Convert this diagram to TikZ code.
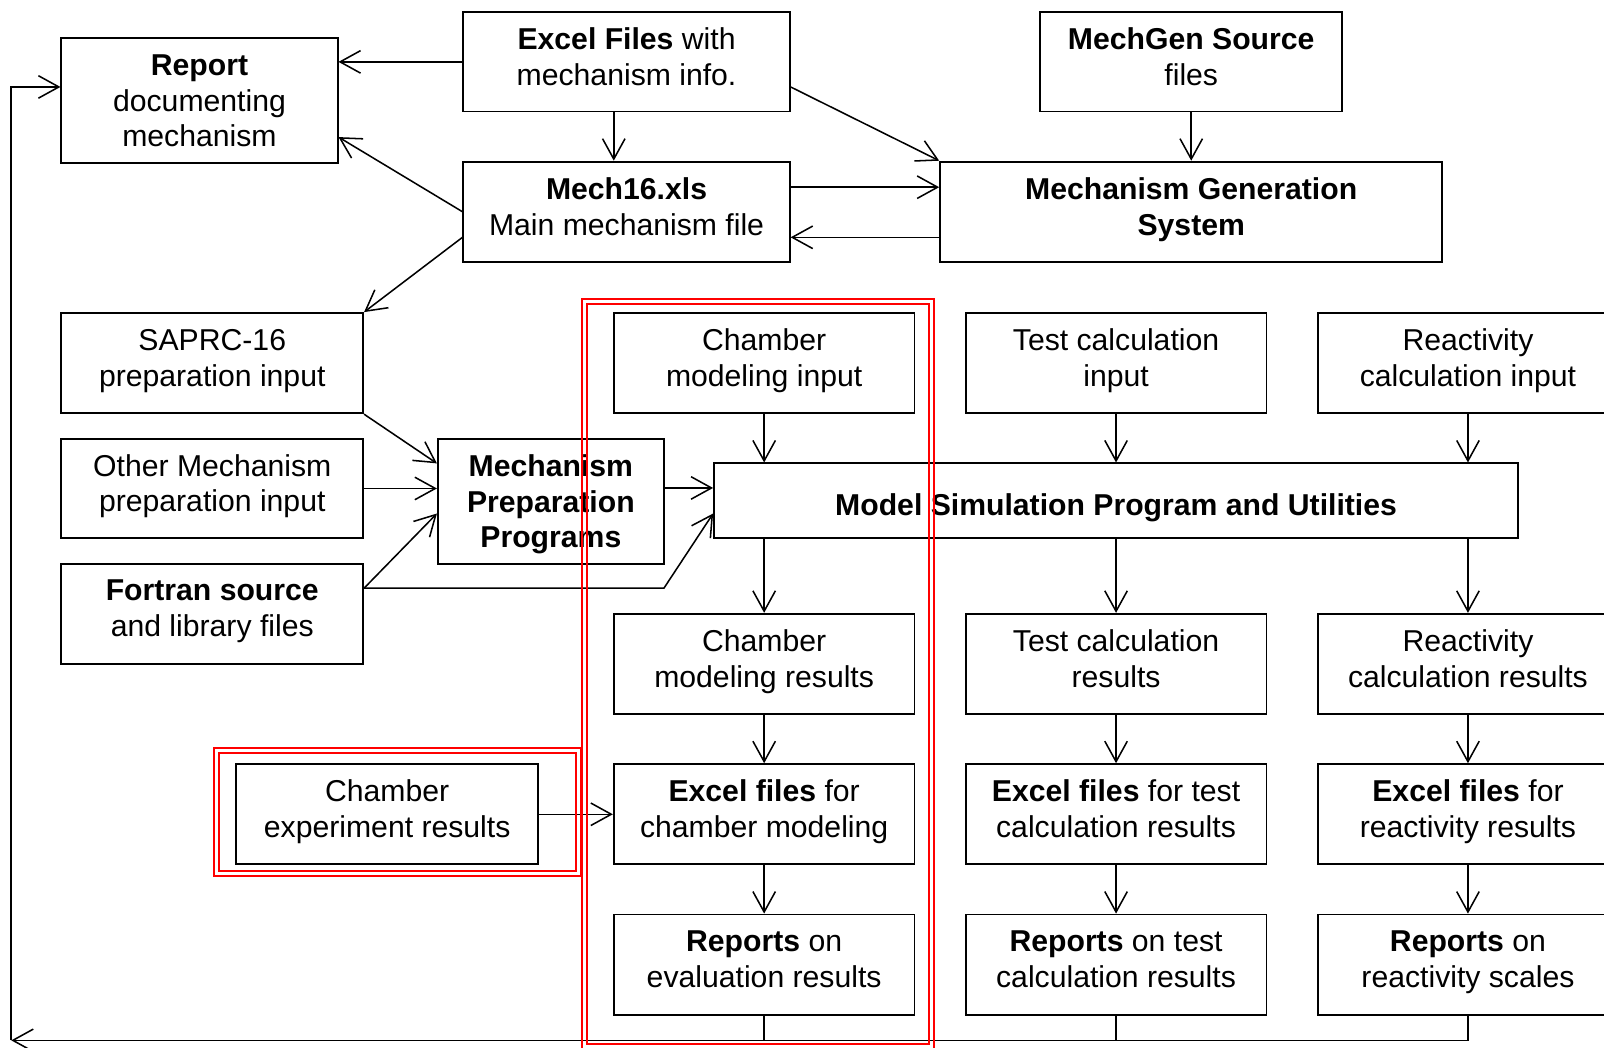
\documentclass[tikz,border=0pt]{standalone}
\usepackage{fontspec}
\setmainfont{Liberation Sans}
\usetikzlibrary{arrows.meta}
\begin{document}
\begin{tikzpicture}[x=1pt,y=-1pt,
  box/.style={draw, line width=1.8pt, align=center, inner sep=0pt,
    font=\fontsize{29.5}{35}\selectfont,
    execute at begin node=\strut, execute at end node=\strut},
  threeline/.style={text depth=0pt},
  arr/.style={line width=1.5pt, -{Straight Barb[length=20pt,width=22pt,line width=1.5pt]}},
  plain/.style={line width=1.5pt},
  redbox/.style={draw=red, line width=2pt}]
\useasboundingbox (0,0) rectangle (1568,1024);

% top area
\node[box, threeline, minimum width=270pt, minimum height=122pt] (report) at (195,98.5) {\textbf{Report}\\documenting\\mechanism};
\node[box, minimum width=319pt, minimum height=97pt] (excel) at (612.5,60.5) {\textbf{Excel Files} with\\mechanism info.};
\node[box, minimum width=295pt, minimum height=97pt] (mgsrc) at (1164.5,60.5) {\textbf{MechGen Source}\\files};
\node[box, minimum width=319pt, minimum height=98pt] (mech16) at (612.5,207) {\textbf{Mech16.xls}\\Main mechanism file};
\node[box, minimum width=491pt, minimum height=98pt] (mgs) at (1164.5,207) {\textbf{Mechanism Generation}\\\textbf{System}};

% left column
\node[box, minimum width=295pt, minimum height=98pt] (saprc) at (207.5,355) {SAPRC-16\\preparation input};
\node[box, minimum width=295pt, minimum height=97pt] (other) at (207.5,477.5) {Other Mechanism\\preparation input};
\node[box, minimum width=295pt, minimum height=98pt] (fortran) at (207.5,600) {\textbf{Fortran source}\\and library files};
\node[box, threeline, minimum width=221pt, minimum height=122pt] (mpp) at (538.5,490) {\textbf{Mechanism}\\\textbf{Preparation}\\\textbf{Programs}};

% inputs
\node[box, minimum width=294pt, minimum height=98pt] (cmi) at (747,355) {Chamber\\modeling input};
\node[box, minimum width=294pt, minimum height=98pt] (tci) at (1091,355) {Test calculation\\input};
\node[box, minimum width=294pt, minimum height=98pt] (rci) at (1435,355) {Reactivity\\calculation input};

\node[box, text height=29pt, text depth=0pt, minimum width=786pt, minimum height=73pt] (model) at (1091,489.5) {\textbf{Model Simulation Program and Utilities}};

% results
\node[box, minimum width=294pt, minimum height=98pt] (cmr) at (747,649) {Chamber\\modeling results};
\node[box, minimum width=294pt, minimum height=98pt] (tcr) at (1091,649) {Test calculation\\results};
\node[box, minimum width=294pt, minimum height=98pt] (rcr) at (1435,649) {Reactivity\\calculation results};

\node[box, minimum width=295pt, minimum height=98pt] (cer) at (378.5,796) {Chamber\\experiment results};
\node[box, minimum width=294pt, minimum height=98pt] (exc) at (747,796) {\textbf{Excel files} for\\chamber modeling};
\node[box, minimum width=294pt, minimum height=98pt] (ext) at (1091,796) {\textbf{Excel files} for test\\calculation results};
\node[box, minimum width=294pt, minimum height=98pt] (exr) at (1435,796) {\textbf{Excel files} for\\reactivity results};

\node[box, minimum width=294pt, minimum height=98pt] (rpe) at (747,943) {\textbf{Reports} on\\evaluation results};
\node[box, minimum width=294pt, minimum height=98pt] (rpt) at (1091,943) {\textbf{Reports} on test\\calculation results};
\node[box, minimum width=294pt, minimum height=98pt] (rpr) at (1435,943) {\textbf{Reports} on\\reactivity scales};

% connectors, top
\draw[arr] (excel.west) -- (report.east |- excel.west);
\draw[arr] (excel.south -| 600,0) -- (mech16.north -| 600,0);
\draw[arr] (excel.east |- 0,85) -- (mgs.north west);
\draw[arr] (mgsrc.south) -- (mgs.north);
\draw[arr] (mech16.east |- 0,183) -- (mgs.west |- 0,183);
\draw[arr] (mgs.west |- 0,232) -- (mech16.east |- 0,232);
\draw[arr] (mech16.west |- 0,207) -- (report.east |- 0,134);
\draw[arr] (mech16.west |- 0,232) -- (saprc.north east);

% preparation
\draw[arr] (saprc.south east) -- (mpp.west |- 0,453);
\draw[arr] (other.east) -- (mpp.west |- other.east);
\draw[arr] (fortran.east |- 0,575) -- (mpp.west |- 0,502);
\coordinate (fbend) at (649,575);
\draw[arr] (fortran.east |- 0,575) -- (fbend) -- (model.west |- 0,502);
\draw[arr] (mpp.east |- 0,477) -- (model.west |- 0,477);

% model columns
\foreach \i/\r/\e/\p in {cmi/cmr/exc/rpe, tci/tcr/ext/rpt, rci/rcr/exr/rpr}{
  \draw[arr] (\i.south) -- (\i.south |- model.north);
  \draw[arr] (\r.north |- model.south) -- (\r.north);
  \draw[arr] (\r.south) -- (\e.north);
  \draw[arr] (\e.south) -- (\p.north);
}
\draw[arr] (cer.east) -- (exc.west);

% feedback
\coordinate (fb) at (11,1017);
\coordinate (fbtop) at (11,85);
\draw[plain] (rpe.south) -- (rpe.south |- fb);
\draw[plain] (rpt.south) -- (rpt.south |- fb);
\draw[arr] (rpr.south) |- (fb);
\draw[arr] (fb) -- (fbtop) -- (report.west |- fbtop);

% red highlight frames
\draw[redbox] (569,292) rectangle (913,1027);
\draw[redbox] (574,297) rectangle (908,1021);
\draw[redbox] (209,731) rectangle (568,856);
\draw[redbox] (214,736) rectangle (563,851);
\end{tikzpicture}
\end{document}
